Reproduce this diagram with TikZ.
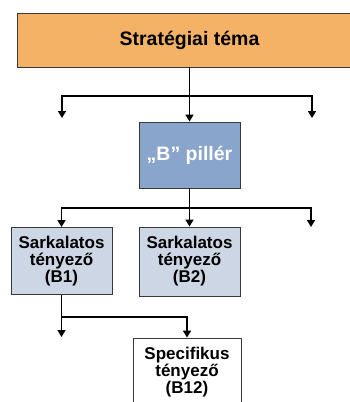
\documentclass[tikz,border=0pt]{standalone}
\usepackage{fontspec}
\setmainfont{Liberation Sans}
\usetikzlibrary{arrows.meta}
\definecolor{themeorange}{HTML}{F4B266}
\definecolor{pillarblue}{HTML}{89A5CB}
\definecolor{factorgray}{HTML}{CDD6E4}
\definecolor{edgegray}{HTML}{383838}
\tikzset{
  box/.style={draw=edgegray, line width=0.9pt, inner sep=0pt, align=center},
  themebox/.style={box, fill=themeorange, minimum width=345pt, minimum height=54pt,
    font=\fontsize{19.5}{22}\selectfont\bfseries},
  pillarbox/.style={box, fill=pillarblue, text=white, minimum width=101pt, minimum height=66pt,
    font=\fontsize{19.5}{22}\selectfont\bfseries},
  factorbox/.style={box, fill=factorgray, minimum width=101pt, minimum height=67pt,
    font=\fontsize{17}{17}\selectfont\bfseries},
  specbox/.style={box, fill=white, minimum width=108pt, minimum height=68pt,
    font=\fontsize{17}{17}\selectfont\bfseries},
  link/.style={draw=black, line width=1.6pt},
  linkarrow/.style={link, -{Triangle[width=8pt,length=7pt]}}
}
\begin{document}
\begin{tikzpicture}[x=1pt,y=-1pt]
\useasboundingbox (0,0) rectangle (350,402);

% boxes
\node[themebox] (tema) at (189.5,40) {Stratégiai téma};
\node[pillarbox] (pillar) at (189.5,155) {„B” pillér};
\node[factorbox] (b1) at (61.5,261) {Sarkalatos\\tényező\\(B1)};
\node[factorbox, minimum height=69pt] (b2) at (189.5,261.5) {Sarkalatos\\tényező\\(B2)};
\node[specbox] (b12) at (187,372) {Specifikus\\tényező\\(B12)};

% junctions and open arrow ends
\coordinate (j1) at (189.5,96);
\coordinate (l1) at (62,118);
\coordinate (r1) at (312,118);
\coordinate (j2) at (189.5,208);
\coordinate (r2) at (311,227);
\coordinate (j3) at (61.5,317);
\coordinate (l3) at (61.5,337);

% theme to pillar level
\draw[link] (tema.south) -- (j1);
\draw[linkarrow] (j1) -| (l1);
\draw[linkarrow] (j1) -| (r1);
\draw[linkarrow] (j1) -- (pillar.north);

% pillar to factor level
\draw[link] (pillar.south) -- (j2);
\draw[linkarrow] (j2) -| (b1.north);
\draw[linkarrow] (j2) -- (b2.north);
\draw[linkarrow] (j2) -| (r2);

% factor B1 to specific factors
\draw[link] (b1.south) -- (j3);
\draw[linkarrow] (j3) -- (l3);
\draw[linkarrow] (j3) -| (b12.north);
\end{tikzpicture}
\end{document}
